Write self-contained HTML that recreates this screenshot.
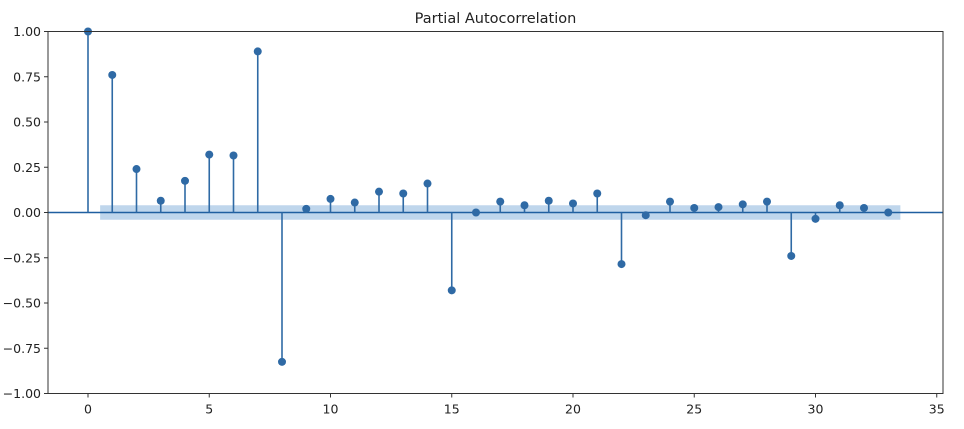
<!DOCTYPE html>
<html><head><meta charset="utf-8"><style>
body{margin:0;background:#fff;width:964px;height:424px;overflow:hidden;font-family:"Liberation Sans","DejaVu Sans",sans-serif}
svg text{font-family:"DejaVu Sans","Liberation Sans",sans-serif;fill:#222}
</style></head><body>
<svg id="chart" width="964" height="424" xmlns="http://www.w3.org/2000/svg"></svg>
<script>
const lags=[0,1,2,3,4,5,6,7,8,9,10,11,12,13,14,15,16,17,18,19,20,21,22,23,24,25,26,27,28,29,30,31,32,33];
const pacfValues=[1.0,0.76,0.24,0.065,0.175,0.32,0.315,0.89,-0.825,0.02,0.075,0.055,0.115,0.105,0.16,-0.43,0.0,0.06,0.04,0.065,0.05,0.105,-0.285,-0.015,0.06,0.025,0.03,0.045,0.06,-0.24,-0.035,0.04,0.025,0.0];
const confBand=0.04;
const xTicks=[0,5,10,15,20,25,30,35];
const yTicks=[1,0.75,0.5,0.25,0,-0.25,-0.5,-0.75,-1];
const yTickLabels=["1.00","0.75","0.50","0.25","0.00","\u22120.25","\u22120.50","\u22120.75","\u22121.00"];
const L=48,R=943,T=31.5,B=393.5;
const xs=v=>88+v*24.25, ys=v=>212.5-v*(B-T)/2;
const svg=document.getElementById('chart');const NS='http://www.w3.org/2000/svg';
function mk(t,a,p){const e=document.createElementNS(NS,t);for(const k in a)e.setAttribute(k,a[k]);(p||svg).appendChild(e);return e;}
let e=mk('rect',{x:xs(0.5),y:ys(confBand),width:xs(33.5)-xs(0.5),height:ys(-confBand)-ys(confBand),fill:'#a9c8e6',opacity:0.75});

e=mk('line',{x1:L,x2:R,y1:ys(0),y2:ys(0),stroke:'#1f5fa0','stroke-width':1.5});

lags.forEach((l,i)=>{
 const g=mk('g',{});
 
 mk('line',{x1:xs(l),x2:xs(l),y1:ys(0),y2:ys(pacfValues[i]),stroke:'#2f6aa5','stroke-width':1.6},g);
 mk('circle',{cx:xs(l),cy:ys(pacfValues[i]),r:4,fill:'#2f6aa5'},g);
});
e=mk('rect',{x:L,y:T,width:R-L,height:B-T,fill:'none',stroke:'#333','stroke-width':1});

yTicks.forEach((v,i)=>{
 mk('line',{x1:L-4,x2:L,y1:ys(v),y2:ys(v),stroke:'#333'});
 const t=mk('text',{x:L-7,y:ys(v)+4.5,'text-anchor':'end','font-size':12.5});t.textContent=yTickLabels[i];
 
});
xTicks.forEach(v=>{
 mk('line',{x1:xs(v),x2:xs(v),y1:B,y2:B+4,stroke:'#333'});
 const t=mk('text',{x:xs(v),y:B+20,'text-anchor':'middle','font-size':12.5});t.textContent=v;
 
});
e=mk('text',{x:(L+R)/2,y:23,'text-anchor':'middle','font-size':14.5});e.textContent='Partial Autocorrelation';

</script>
</body></html>
